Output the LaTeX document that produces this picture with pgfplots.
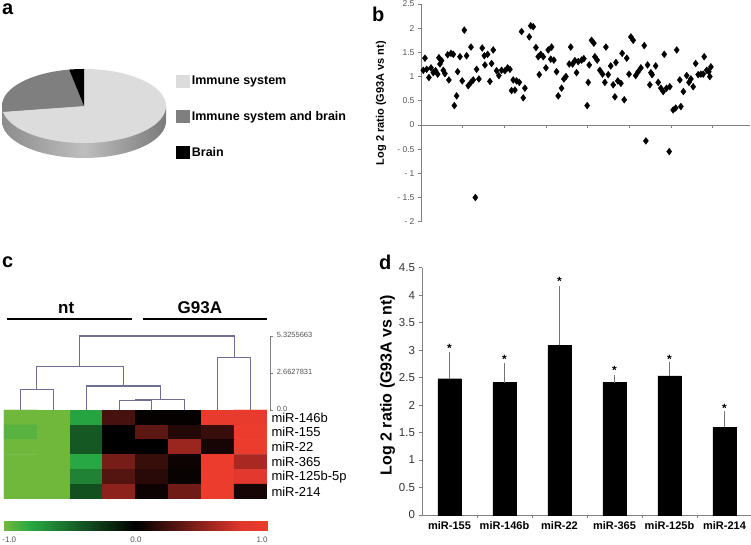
\documentclass[border=0pt]{standalone}
\usepackage{fontspec}
\setmainfont{Liberation Sans}
\usepackage{pgfplots}
\pgfplotsset{compat=1.18}
\newcommand{\fs}[1]{\fontsize{#1}{#1}\selectfont}
\definecolor{pieIS}{HTML}{DCDCDC}
\definecolor{pieISB}{HTML}{7F7F7F}
\definecolor{sideL}{HTML}{8C8C8C}
\definecolor{sideM}{HTML}{BEBEBE}
\definecolor{sideR}{HTML}{7A7A7A}
\definecolor{dendro}{HTML}{6E6E96}
\definecolor{axgray}{HTML}{808080}
\definecolor{lblgray}{HTML}{555555}
\pgfplotsset{
  colormap={gnred}{rgb255(0cm)=(112,184,60); rgb255(1cm)=(40,168,68);
    rgb255(5cm)=(0,0,0); rgb255(9cm)=(225,55,45); rgb255(10cm)=(235,60,45)}
}

% pie shares (%)
\def\pBrain{2.9}
\def\pBoth{24.6}
\def\pImmune{72.5}

\begin{document}
\begin{tikzpicture}[x=1pt,y=1pt]
\fill[white] (0,0) rectangle (751,545);
\useasboundingbox (0,0) rectangle (751,545);

% panel letters
\node[anchor=base west, inner sep=0pt, font=\fs{20}\bfseries] at (2,530) {a};
\node[anchor=base west, inner sep=0pt, font=\fs{20}\bfseries] at (372,523) {b};
\node[anchor=base west, inner sep=0pt, font=\fs{20}\bfseries] at (2,277) {c};
\node[anchor=base west, inner sep=0pt, font=\fs{20}\bfseries] at (379,275) {d};

% ---------- a: pie ----------
\pgfmathsetmacro{\aA}{90+3.6*\pBrain}
\pgfmathsetmacro{\aB}{\aA+3.6*\pBoth}
\begin{axis}[at={(-6.2pt,383.5pt)}, anchor=south west,
    x=82pt, y=37pt, xmin=-1.1, xmax=1.1, ymin=-1.5, ymax=1.1,
    hide axis, clip=false,
    legend style={at={(1.011,0.911)}, anchor=north west, draw=none, fill=none,
      font=\fs{12.5}\bfseries, row sep=21.5pt, inner sep=0pt},
    legend cell align=left,
    legend image code/.code={\fill[#1] (0pt,-6.5pt) rectangle (13.5pt,6.5pt);}]
\addplot[forget plot, draw=none, left color=sideL, right color=sideR, middle color=sideM,
    domain=180:360, samples=90] ({cos(x)},{sin(x)-0.405}) -- (axis cs:1,0) -- (axis cs:-1,0) -- cycle;
\addplot[forget plot, fill=pieIS, draw=none, domain=\aB:450, samples=120]
    ({cos(x)},{sin(x)}) -- (axis cs:0,0) -- cycle;
\addplot[forget plot, fill=pieISB, draw=none, domain=\aA:\aB, samples=40]
    ({cos(x)},{sin(x)}) -- (axis cs:0,0) -- cycle;
\addplot[forget plot, fill=black, draw=none, domain=90:\aA, samples=10]
    ({cos(x)},{sin(x)}) -- (axis cs:0,0) -- cycle;
\addlegendimage{fill=pieIS, draw=none}
\addlegendentry{Immune system}
\addlegendimage{fill=pieISB, draw=none}
\addlegendentry{Immune system and brain}
\addlegendimage{fill=black, draw=none}
\addlegendentry{Brain}
\end{axis}

% ---------- b: scatter ----------
\begin{axis}[at={(421pt,323.3pt)}, anchor=south west, scale only axis,
    width=329pt, height=217.7pt,
    xmin=0, xmax=158, ymin=-2, ymax=2.5,
    axis x line=middle, axis y line=left,
    axis line style={-, draw=axgray, line width=0.8pt},
    tick style={draw=axgray, line width=0.6pt}, tick align=outside, major tick length=3pt,
    xtick={20,40,60,80,100,120,140}, xticklabels={},
    ytick={-2,-1.5,-1,-0.5,0,0.5,1,1.5,2,2.5},
    yticklabels={- 2,- 1.5,- 1,- 0.5,0,0.5,1,1.5,2,2.5},
    yticklabel style={font=\fs{8.5}, text=lblgray},
    ylabel={Log 2 ratio (G93A vs nt)},
    every axis y label/.style={at={(axis description cs:-0.1216,0.545)}, rotate=90,
      anchor=center, font=\fs{11}\bfseries},
    clip=false]
\addplot[only marks, mark=diamond*, mark size=3.4pt, black] coordinates {
(1.1,1.13) (1.9,1.38) (2.7,1.15) (3.8,0.98) (4.8,1.18) (5.9,1.08) (7,1.12) (8,1.05)
(8.6,1.39) (9.1,1.26) (9.9,1.33) (10.7,1.13) (11.5,1.06) (12.8,1.45) (13.4,0.93)
(14.4,1.48) (15.5,1.46) (16,0.40) (17.1,0.60) (17.6,1.10) (18.7,1.41) (19.8,0.91)
(20.8,1.96) (21.9,1.43) (22.7,0.81) (24,1.61) (24,0.88) (25.1,0.93) (26.1,-1.50)
(26.7,1.15) (27.8,0.95) (29.4,1.59) (30.4,1.43) (30.7,1.24) (32,1.46) (33.1,0.90)
(33.9,1.27) (34.7,1.55) (36.3,1.12) (37.4,1.02) (38.7,1.13) (40.3,1.12) (41.6,1.18)
(42.7,1.15) (43.5,0.71) (44.3,0.93) (45.1,0.72) (45.9,0.91) (47.2,0.88) (48.3,1.93)
(49.1,0.56) (49.9,0.76) (52,1.82) (52.7,2.05) (53.9,2.03) (55.2,1.60) (56.3,1.41)
(56.8,1.04) (57.5,1.46) (58.7,1.41) (60,1.18) (61.1,1.55) (62.3,1.36) (62.7,1.61)
(63.8,1.34) (65.1,1.10) (65.9,0.60) (67.5,0.76) (68.6,0.95) (69.6,1.00) (71.2,1.26)
(71.9,1.61) (72.8,1.26) (73.9,1.33) (74.7,1.08) (75.5,1.31) (77.1,1.34) (78.2,1.37)
(79.8,0.40) (80.3,0.88) (80.8,1.24) (81.9,1.75) (83,1.69) (83.5,1.41) (84.6,1.34)
(85.9,1.13) (87.2,1.05) (88.3,0.88) (88.8,1.61) (89.9,1.04) (91.1,1.22) (92.3,0.83)
(93.1,0.58) (93.6,1.29) (94.5,0.91) (96,0.86) (96.6,1.48) (97.6,0.52) (98.8,1.38)
(99.9,1.05) (100.8,1.82) (101.9,1.75) (103.1,1.02) (104.3,1.10) (105.6,1.18)
(107.2,1.64) (108,-0.33) (108.8,1.24) (109.9,0.83) (110.4,1.08) (111,1.04)
(112.7,1.22) (113.9,0.88) (115.2,0.76) (116.3,0.69) (116.8,1.46) (117.9,0.76)
(119.2,-0.55) (119.5,0.79) (121.1,0.31) (122.3,0.35) (122.8,1.55) (124.3,0.93)
(124.8,0.38) (126,0.69) (127.6,1.02) (128.7,0.88) (129.6,0.95) (130.7,0.79)
(131.9,1.27) (133.1,1.04) (134.4,1.05) (135.5,1.05) (136,1.41) (137.2,1.13)
(138.2,1.10) (138.7,1.00) (139.2,1.20)
};
\end{axis}

% ---------- c: heatmap ----------
\begin{axis}[at={(4pt,46pt)}, anchor=south west, scale only axis,
    width=263pt, height=89pt,
    xmin=0.5, xmax=8.5, ymin=0.5, ymax=6.5, y dir=reverse, enlargelimits=false,
    axis line style={draw=none}, tick style={draw=none}, major tick length=0pt,
    xtick=\empty, ytick={1,2,3,4,5,6},
    yticklabels={miR-146b,miR-155,miR-22,miR-365,miR-125b-5p,miR-214},
    yticklabel pos=right, yticklabel style={font=\fs{13}, anchor=west, xshift=1pt},
    colormap name=gnred, point meta min=-1, point meta max=1,
    colorbar horizontal,
    colorbar style={at={(parent axis.south west)}, anchor=north west, yshift=-13.7pt,
      scale only axis, width=264pt, height=9pt,
      axis line style={draw=none}, tick style={draw=none}, major tick length=0pt,
      xtick={-0.96,0,0.955}, xticklabels={-1.0,0.0,1.0},
      xticklabel style={font=\fs{8}, text=lblgray, yshift=-3pt}, ytick=\empty}]
\addplot[matrix plot*, mesh/cols=8, point meta=explicit] table[meta=c] {
x y c
1 1 -1
2 1 -1
3 1 -0.78
4 1 0.25
5 1 0.02
6 1 0.02
7 1 0.97
8 1 0.97
1 2 -0.93
2 2 -1
3 2 -0.42
4 2 0.0
5 2 0.33
6 2 0.12
7 2 0.2
8 2 1
1 3 -1
2 3 -1
3 3 -0.42
4 3 0.0
5 3 0.0
6 3 0.55
7 3 0.08
8 3 1
1 4 -1
2 4 -1
3 4 -0.8
4 4 0.42
5 4 0.2
6 4 0.05
7 4 1
8 4 0.6
1 5 -1
2 5 -1
3 5 -0.62
4 5 0.3
5 5 0.15
6 5 0.03
7 5 1
8 5 0.85
1 6 -1
2 6 -1
3 6 -0.38
4 6 0.5
5 6 0.05
6 6 0.4
7 6 1
8 6 0.08
};
\end{axis}

% ---------- c: dendrogram ----------
\begin{axis}[at={(4pt,135pt)}, anchor=south west, scale only axis,
    width=266.3pt, height=74.2pt,
    xmin=0.5, xmax=8.6, ymin=0, ymax=5.34,
    axis x line=none, axis y line=right,
    axis line style={-, draw=axgray, line width=0.7pt},
    tick style={draw=axgray, line width=0.6pt}, tick align=outside, major tick length=3pt,
    ytick={0,2.6627831,5.3255663}, yticklabels={0.0,2.6627831,5.3255663},
    yticklabel style={font=\fs{7.5}, text=lblgray, yshift=1.5pt},
    clip=false]
\addplot[dendro, line width=1.1pt] coordinates {(1,0) (1,1.49) (2,1.49) (2,0)};
\addplot[dendro, line width=1.1pt] coordinates {(4,0) (4,0.67) (5,0.67) (5,0)};
\addplot[dendro, line width=1.1pt] coordinates {(4.5,0.67) (4.5,0.77) (6,0.77) (6,0)};
\addplot[dendro, line width=1.1pt] coordinates {(3,0) (3,1.73) (5.25,1.73) (5.25,0.77)};
\addplot[dendro, line width=1.1pt] coordinates {(1.5,1.49) (1.5,3.12) (4.125,3.12) (4.125,1.73)};
\addplot[dendro, line width=1.1pt] coordinates {(7,0) (7,3.76) (8,3.76) (8,0)};
\addplot[dendro, line width=1.1pt] coordinates {(2.81,3.12) (2.81,5.3255663) (7.5,5.3255663) (7.5,3.76)};
% group bars
\addplot[black, line width=2pt] coordinates {(0.59,6.55) (4.39,6.55)};
\addplot[black, line width=2pt] coordinates {(4.73,6.55) (8.5,6.55)};
\node[anchor=base, font=\fs{17}\bfseries, inner sep=0pt] at (axis cs:2.39,6.91) {nt};
\node[anchor=base, font=\fs{17}\bfseries, inner sep=0pt] at (axis cs:6.46,6.91) {G93A};
\end{axis}

% ---------- d: bars ----------
\begin{axis}[at={(422pt,30pt)}, anchor=south west, scale only axis,
    width=330pt, height=247.3pt,
    xmin=0, xmax=6, ymin=0, ymax=4.5,
    axis x line=bottom, axis y line=left,
    axis line style={-, draw=axgray, line width=0.8pt},
    tick style={draw=axgray, line width=0.6pt}, tick align=outside, major tick length=3.5pt,
    xtick={1,2,3,4,5}, xticklabels={},
    extra x ticks={0.5,1.5,2.5,3.5,4.5,5.5},
    extra x tick labels={miR-155,miR-146b,miR-22,miR-365,miR-125b,miR-214},
    extra x tick style={major tick length=0pt, tick style={draw=none},
      xticklabel style={font=\fs{11}\bfseries, yshift=-3pt}},
    ytick={0,0.5,1,1.5,2,2.5,3,3.5,4,4.5},
    yticklabels={0,0.5,1,1.5,2,2.5,3,3.5,4,4.5},
    yticklabel style={font=\fs{11.5}, text=black!80},
    ylabel={Log 2 ratio (G93A vs nt)},
    every axis y label/.style={at={(axis description cs:-0.1045,0.526)}, rotate=90,
      anchor=center, font=\fs{16}\bfseries},
    clip=false]
\addplot[ybar, bar width=23.3pt, fill=black, draw=black,
    error bars/.cd, y dir=plus, y explicit,
    error bar style={line width=0.8pt, color=black!55},
    error mark options={mark size=3.5pt, line width=0.8pt, color=black!55}]
  coordinates {
  (0.5,2.48) +- (0,0.42)
  (1.5,2.41) +- (0,0.29)
  (2.5,3.09) +- (0,1.02)
  (3.5,2.41) +- (0,0.08)
  (4.5,2.53) +- (0,0.19)
  (5.5,1.60) +- (0,0.22)
};
\addplot[draw=none, mark=none, nodes near coords={\bfseries *},
    every node near coord/.append style={anchor=center, font=\fs{12}, yshift=-2pt}]
  coordinates {(0.5,3.06) (1.5,2.87) (2.5,4.28) (3.5,2.66) (4.5,2.87) (5.5,1.97)};
\end{axis}
\end{tikzpicture}
\end{document}
